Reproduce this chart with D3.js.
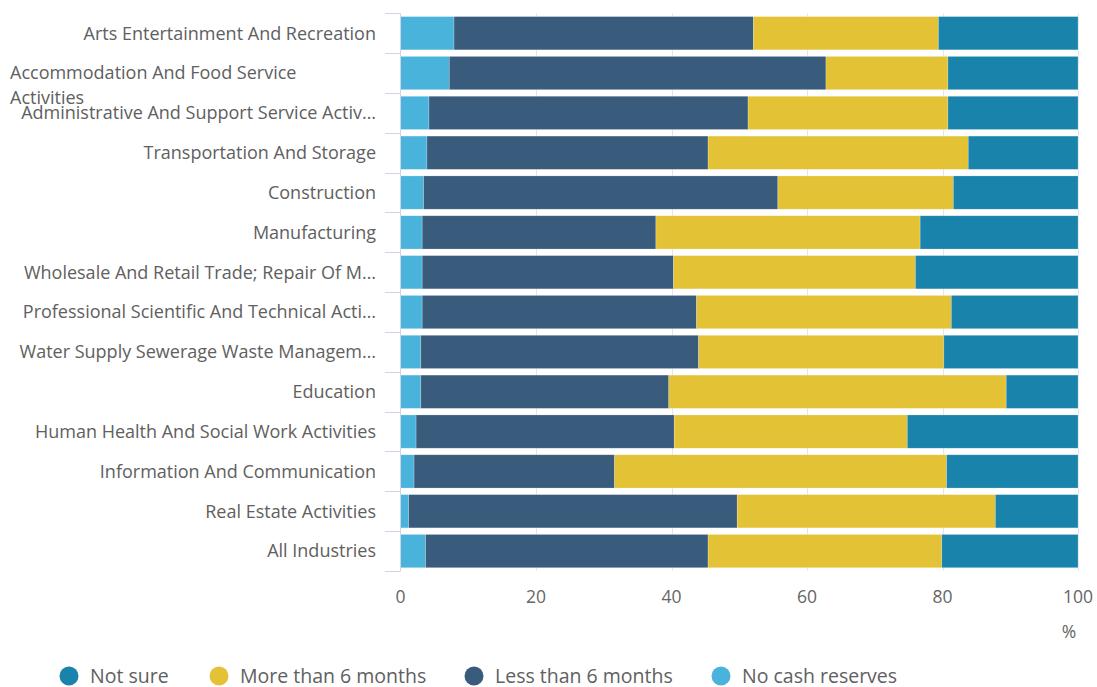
<!DOCTYPE html>
<html>
<head>
<meta charset="utf-8">
<script src="https://cdn.jsdelivr.net/npm/d3@7"></script>
<style>
  html, body { margin: 0; padding: 0; background: #fff; }
  svg { display: block; font-family: "Open Sans", sans-serif; }
</style>
</head>
<body>
<svg id="chart" width="1097" height="687"></svg>
<script>
// Industry categories (top to bottom); "\n" marks a wrapped label line
const categories = [
  "Arts Entertainment And Recreation",
  "Accommodation And Food Service\nActivities",
  "Administrative And Support Service Activ…",
  "Transportation And Storage",
  "Construction",
  "Manufacturing",
  "Wholesale And Retail Trade; Repair Of M…",
  "Professional Scientific And Technical Acti…",
  "Water Supply Sewerage Waste Managem…",
  "Education",
  "Human Health And Social Work Activities",
  "Information And Communication",
  "Real Estate Activities",
  "All Industries"
];

// Share of businesses (%) by cash reserves, one value per category
const noCashReserves   = [7.9, 7.2, 4.2, 3.9, 3.4, 3.2, 3.2, 3.2, 3.0, 3.0, 2.3, 2.0, 1.2, 3.7];
const lessThan6Months  = [44.2, 55.6, 47.1, 41.5, 52.3, 34.5, 37.1, 40.5, 41.0, 36.6, 38.1, 29.6, 48.5, 41.7];
const moreThan6Months  = [27.3, 18.0, 29.5, 38.4, 25.9, 39.0, 35.7, 37.6, 36.2, 49.8, 34.4, 49.0, 38.1, 34.5];
const notSure          = [20.6, 19.2, 19.2, 16.2, 18.4, 23.3, 24.0, 18.7, 19.8, 10.6, 25.2, 19.4, 12.2, 20.1];

const xTicks = [0, 20, 40, 60, 80, 100];

// Stacking order left to right
const series = [
  { name: "No cash reserves",   values: noCashReserves,  color: "#4AB3DC" },
  { name: "Less than 6 months", values: lessThan6Months, color: "#395C7D" },
  { name: "More than 6 months", values: moreThan6Months, color: "#E4C236" },
  { name: "Not sure",           values: notSure,         color: "#1A83AB" }
];
// Legend order
const legendOrder = ["Not sure", "More than 6 months", "Less than 6 months", "No cash reserves"];

const svg = d3.select("#chart");
const plot = { left: 400.5, right: 1078, top: 13.3, bottom: 571 };

const x = d3.scaleLinear().domain([0, 100]).range([plot.left, plot.right]);
const y = d3.scaleBand().domain(categories).range([plot.top, plot.bottom])
  .paddingInner(0.165).paddingOuter(0.0825);

// Vertical grid lines
svg.append("g")
  .selectAll("line")
  .data(xTicks.filter(d => d > 0))
  .join("line")
  .attr("x1", d => Math.round(x(d)) + 0.5).attr("x2", d => Math.round(x(d)) + 0.5)
  .attr("y1", plot.top).attr("y2", plot.bottom)
  .attr("stroke", "#e6e6e6").attr("stroke-width", 1);

// Stacked bars
const rows = categories.map((c, i) => {
  const r = { category: c };
  series.forEach(s => { r[s.name] = s.values[i]; });
  return r;
});
const stacked = d3.stack().keys(series.map(s => s.name))(rows);

svg.append("g")
  .selectAll("g")
  .data(stacked)
  .join("g")
  .attr("fill", (d, i) => series[i].color)
  .selectAll("rect")
  .data(d => d)
  .join("rect")
  .attr("x", d => x(d[0]))
  .attr("width", d => x(d[1]) - x(d[0]))
  .attr("y", d => y(d.data.category))
  .attr("height", y.bandwidth())
  .attr("stroke", "rgba(255,255,255,0.35)")
  .attr("stroke-width", 0.6);

// Category axis: line, tick marks at band edges, labels
const yAxis = svg.append("g");
yAxis.append("line")
  .attr("x1", plot.left).attr("x2", plot.left)
  .attr("y1", plot.top).attr("y2", plot.bottom)
  .attr("stroke", "#ccd6eb");
const edges = d3.range(categories.length + 1).map(i => plot.top + i * (plot.bottom - plot.top) / categories.length);
yAxis.selectAll("line.tick")
  .data(edges)
  .join("line")
  .attr("class", "tick")
  .attr("x1", 385).attr("x2", plot.left)
  .attr("y1", d => Math.round(d) + 0.5).attr("y2", d => Math.round(d) + 0.5)
  .attr("stroke", "#ccd6eb");

categories.forEach(c => {
  const lines = c.split("\n");
  const cy = y(c) + y.bandwidth() / 2;
  const t = yAxis.append("text")
    .attr("fill", "#606060")
    .attr("font-size", 18)
    .attr("y", cy);
  if (lines.length === 1) {
    t.attr("x", 376).attr("dy", "0.35em").attr("text-anchor", "end").text(c);
  } else {
    t.attr("text-anchor", "start");
    lines.forEach((ln, k) => {
      t.append("tspan").attr("x", 10).attr("dy", k === 0 ? "0.35em" : 25).text(ln);
    });
  }
});

// Value axis labels
svg.append("g")
  .selectAll("text")
  .data(xTicks)
  .join("text")
  .attr("x", d => x(d))
  .attr("y", 597)
  .attr("dy", "0.35em")
  .attr("text-anchor", "middle")
  .attr("fill", "#666")
  .attr("font-size", 17.5)
  .text(d => d);

svg.append("text")
  .attr("x", 1069).attr("y", 632).attr("dy", "0.35em")
  .attr("text-anchor", "middle")
  .attr("fill", "#666").attr("font-size", 17.5)
  .text("%");

// Legend
const legendX = [69, 219, 474, 721];
const legend = svg.append("g")
  .selectAll("g")
  .data(legendOrder)
  .join("g")
  .attr("transform", (d, i) => `translate(${legendX[i]},676)`);
legend.append("circle")
  .attr("r", 9.5)
  .attr("fill", d => series.find(s => s.name === d).color);
legend.append("text")
  .attr("x", 21).attr("dy", "0.35em")
  .attr("fill", "#606060").attr("font-size", 19.5)
  .text(d => d);
</script>
</body>
</html>
